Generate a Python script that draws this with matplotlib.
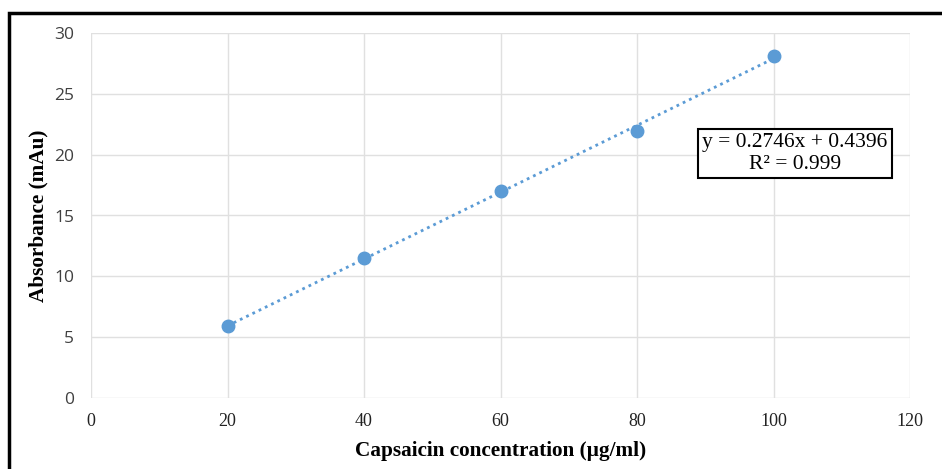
import numpy as np
import matplotlib.pyplot as plt
from matplotlib.patches import Rectangle

# --- data ---
conc = [20, 40, 60, 80, 100]
absorb = [5.9, 11.5, 17.05, 21.95, 28.15]
slope, intercept = 0.2746, 0.4396
r2 = 0.999

x_ticks = [0, 20, 40, 60, 80, 100, 120]
y_ticks = [0, 5, 10, 15, 20, 25, 30]

blue = '#5B9BD5'
grid_col = '#E0E0E0'

fig = plt.figure(figsize=(9.42, 4.69), dpi=100)
ax = fig.add_axes([91/942, 71/469, 819/942, 365/469])

ax.set_xlim(0, 120)
ax.set_ylim(0, 30)
ax.set_xticks(x_ticks)
ax.set_yticks(y_ticks)
ax.grid(True, color=grid_col, linewidth=1)
ax.set_axisbelow(True)
for s in ax.spines.values():
    s.set_visible(False)
ax.tick_params(axis='x', length=0, pad=11)
ax.tick_params(axis='y', length=0, pad=12)

for lab in ax.get_xticklabels():
    lab.set_fontfamily('Liberation Serif')
    lab.set_fontsize(13)
    lab.set_color('#222222')
for lab in ax.get_yticklabels():
    lab.set_fontfamily('Open Sans')
    lab.set_fontsize(12.5)
    lab.set_color('#404040')

# trendline
xx = np.array([conc[0], conc[-1]], dtype=float)
ax.plot(xx, slope * xx + intercept, color=blue, linestyle=(0, (1, 1.5)),
        linewidth=2, zorder=2)
ax.plot(conc, absorb, 'o', color=blue, markersize=9, zorder=3)

ax.text(103.1, 20.1, f'y = {slope}x + {intercept}\nR² = {r2}',
        ha='center', va='center', fontsize=15.5, family='Liberation Serif',
        linespacing=1.2,
        bbox=dict(boxstyle='square,pad=0.2', fc='white', ec='black', lw=1.5))

ax.set_xlabel('Capsaicin concentration (µg/ml)', fontsize=15.3, fontweight='bold',
              family='Liberation Serif', labelpad=8)
ax.set_ylabel('Absorbance (mAu)', fontsize=15.3, fontweight='bold',
              family='Liberation Serif', labelpad=4)

# outer frame (left and top edges visible)
fig.patches.append(Rectangle((9/942, -0.1), 1.2, (469-13)/469 + 0.1,
                             transform=fig.transFigure, fill=False,
                             ec='black', lw=2.5))

fig.savefig('out.png', dpi=100)
